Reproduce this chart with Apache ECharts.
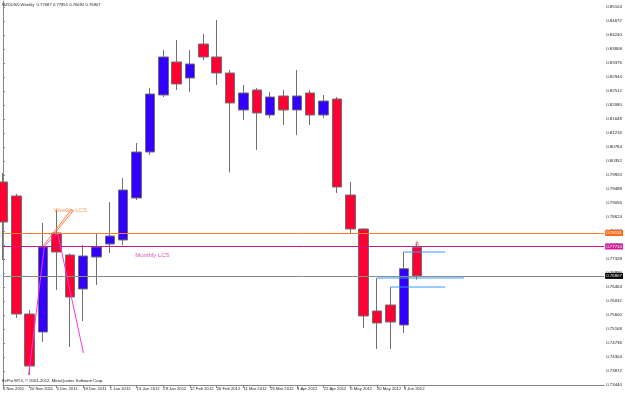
<!DOCTYPE html>
<html><head><meta charset="utf-8">
<script src="https://cdn.jsdelivr.net/npm/echarts@6/dist/echarts.min.js"></script>
<style>html,body{margin:0;padding:0;background:#fff}#c{width:625px;height:393px}</style>
</head><body><div id="c"></div><script>
const weeks = ['6 Nov 2011','13 Nov 2011','20 Nov 2011','27 Nov 2011','4 Dec 2011','11 Dec 2011','18 Dec 2011','25 Dec 2011','1 Jan 2012','8 Jan 2012','15 Jan 2012','22 Jan 2012','29 Jan 2012','5 Feb 2012','12 Feb 2012','19 Feb 2012','26 Feb 2012','4 Mar 2012','11 Mar 2012','18 Mar 2012','25 Mar 2012','1 Apr 2012','8 Apr 2012','15 Apr 2012','22 Apr 2012','29 Apr 2012','6 May 2012','13 May 2012','20 May 2012','27 May 2012','3 Jun 2012','10 Jun 2012'];
const opens  = [0.79705,0.79273,0.75631,0.75076,0.78131,0.77452,0.76403,0.77390,0.77791,0.77915,0.79211,0.80630,0.82389,0.83408,0.82914,0.83963,0.83562,0.83068,0.81927,0.82544,0.81772,0.82359,0.81927,0.82451,0.81772,0.82266,0.79303,0.78254,0.75724,0.75909,0.75292,0.77687];
const closes = [0.78470,0.75631,0.74026,0.77699,0.77544,0.76156,0.77421,0.77699,0.78038,0.79458,0.80630,0.82420,0.83562,0.82729,0.83346,0.83562,0.83068,0.82143,0.82451,0.81834,0.82328,0.81927,0.82359,0.81772,0.82204,0.79550,0.78254,0.75569,0.75353,0.75384,0.77029,0.76807];
const lows   = [0.77298,0.75508,0.73749,0.74767,0.76372,0.74613,0.75415,0.76526,0.77514,0.77760,0.79149,0.80538,0.82328,0.82544,0.82482,0.83470,0.82698,0.80001,0.81618,0.80692,0.81680,0.81464,0.81155,0.81464,0.81680,0.79365,0.78131,0.75199,0.74551,0.74551,0.75045,0.76692];
const highs  = [0.79982,0.79335,0.75755,0.78439,0.78841,0.77500,0.77760,0.78131,0.79087,0.79828,0.80908,0.82605,0.83778,0.84087,0.83778,0.84272,0.84704,0.83161,0.82698,0.82605,0.82482,0.82544,0.83161,0.82544,0.82389,0.82328,0.79705,0.78285,0.76742,0.76464,0.77544,0.77851];
const emptySlots = 14;
const yMin = 0.7344, yStep = 0.00432, yMax = 0.8529;
const levelOrange = 0.78131, levelMagenta = 0.77714, bidPrice = 0.76807;
const blueSegs = [[[30,0.77544],[33.1,0.77544]],[[28,0.76742],[34.5,0.76742]],[[29,0.76464],[33.1,0.76464]]];
const magentaPath = [[1.92,0.73749],[3.1,0.77729],[4.09,0.78131],[6.02,0.74428]];
const orangeSegs = [[[3.0,0.77729],[5.15,0.78871]],[[3.82,0.78100],[5.3,0.78841]]];
const weeklyLabel = [3.82, 0.78841], monthlyLabel = [9.9, 0.77452];
const arrowPt = [31, 0.77915];
const titleText = 'NZDUSD,Weekly  0.77687 0.77851 0.76692 0.76807';
const copyText = 'FxPro MT4, \u00a9 2001-2012, MetaQuotes Software Corp.';

const cats = weeks.concat(new Array(emptySlots).fill(''));
const chart = echarts.init(document.getElementById('c'), null, {renderer:'canvas'});
const small = {fontFamily:'Liberation Sans, Arial, sans-serif', fontSize:4.2, color:'#222'};
const lvlLabel = (val, bg) => ({show:true, position:'end', formatter:()=>val.toFixed(5), backgroundColor:bg, color:'#fff', fontSize:4.4, padding:[1,1], distance:1, fontFamily:'Liberation Sans'});
const series = [
  {type:'candlestick', xAxisIndex:0, yAxisIndex:0, clip:false, barWidth:10,
   data: weeks.map((w,i)=>[opens[i],closes[i],lows[i],highs[i]]),
   itemStyle:{color:'#3300FF', color0:'#FF0033', borderColor:'#707070', borderColor0:'#707070', borderWidth:1},
   markLine:{silent:true, symbol:['none','none'], animation:false, precision:5,
     data:[
       {yAxis:bidPrice, lineStyle:{color:'#8a8a8a', width:1, type:'solid'}, label:lvlLabel(bidPrice,'#000')},
       {yAxis:levelMagenta, lineStyle:{color:'#CC1490', width:1, type:'solid'}, label:lvlLabel(levelMagenta,'#D21E9E')},
       {yAxis:levelOrange, lineStyle:{color:'#FF7A33', width:1, type:'solid'}, label:lvlLabel(levelOrange,'#FF6A1A')}
     ]}}
];
blueSegs.forEach(s=>series.push({type:'line', xAxisIndex:1, yAxisIndex:0, data:s, symbol:'none', silent:true, lineStyle:{color:'#3399FF', width:1}}));
orangeSegs.forEach(s=>series.push({type:'line', xAxisIndex:1, yAxisIndex:0, data:s, symbol:'none', silent:true, lineStyle:{color:'#FF7A33', width:1}}));
series.push({type:'line', xAxisIndex:1, yAxisIndex:0, data:magentaPath, symbol:'none', silent:true, lineStyle:{color:'#FF33DD', width:1}});
series.push({type:'scatter', xAxisIndex:1, yAxisIndex:0, symbolSize:0, silent:true,
  data:[{value:weeklyLabel, label:{show:true, position:'right', distance:0, formatter:'Weekly LCS', color:'#FF7A33', fontSize:6, fontFamily:'Liberation Sans'}},
        {value:monthlyLabel, label:{show:true, position:'right', distance:0, formatter:'Monthly LCS', color:'#D21E9E', fontSize:6, fontFamily:'Liberation Sans'}}]});
series.push({type:'scatter', xAxisIndex:1, yAxisIndex:0, symbol:'arrow', symbolSize:[4,6], silent:true, itemStyle:{color:'#F08A8A'}, data:[arrowPt]});

chart.setOption({
  animation:false,
  backgroundColor:'#fff',
  grid:{left:1.5, right:17, top:1, bottom:8, show:false},
  xAxis:[
    {type:'category', data:cats, boundaryGap:false, gridIndex:0,
     axisLine:{lineStyle:{color:'#888', width:1}},
     axisTick:{show:true, length:3, interval:(i,v)=>v!=='' && i%2===0, lineStyle:{color:'#888'}},
     axisLabel:{interval:(i,v)=>v!=='' && i%2===0, align:'left', margin:2, ...small},
     splitLine:{show:false}},
    {type:'value', min:0, max:cats.length-1, show:false, gridIndex:0}
  ],
  yAxis:[{type:'value', position:'right', min:yMin, max:yMax, interval:yStep, scale:true,
    axisLine:{show:true, lineStyle:{color:'#888', width:1}},
    axisTick:{show:true, length:2, lineStyle:{color:'#888'}},
    axisLabel:{formatter:v=>v.toFixed(5), margin:2, showMaxLabel:false, ...small, fontSize:4.4},
    splitLine:{show:false}}],
  graphic:[
    {type:'text', x:2, y:3, z:100, style:{text:titleText, fill:'#222', font:'4.2px Liberation Sans', textVerticalAlign:'top'}},
    {type:'text', x:2, y:379, z:100, style:{text:copyText, fill:'#222', font:'4.2px Liberation Sans', textVerticalAlign:'top'}}
  ],
  series
});
</script></body></html>
